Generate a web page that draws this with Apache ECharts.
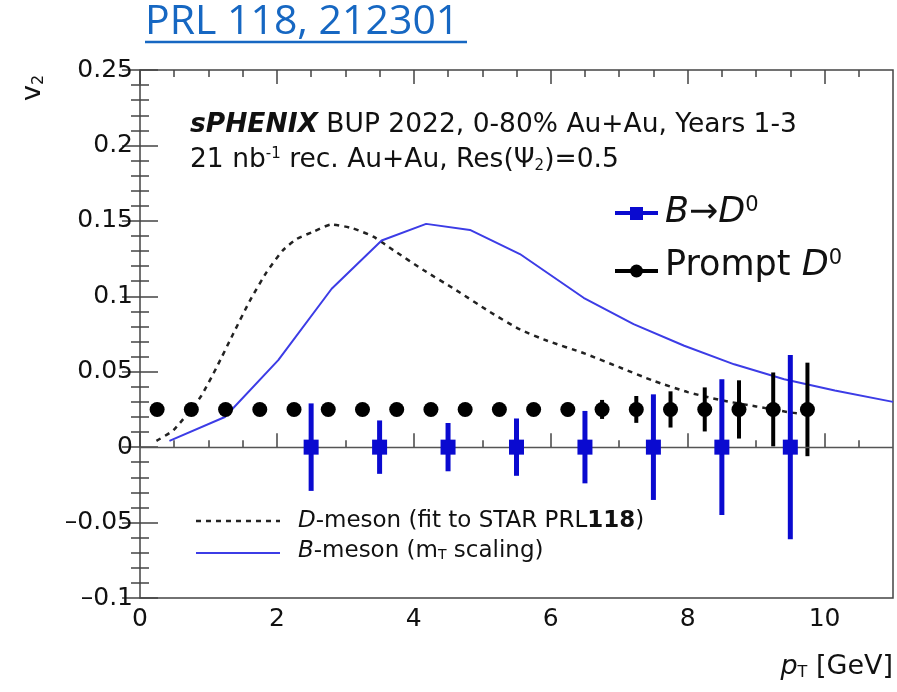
<!DOCTYPE html>
<html><head><meta charset="utf-8">
<script src="https://cdn.jsdelivr.net/npm/echarts@6/dist/echarts.min.js"></script>
<style>html,body{margin:0;padding:0;background:#fff}#c{width:897px;height:692px}</style>
</head><body><div id="c"></div>
<script>
// ---------------- data ----------------
const promptD0_pt  = [0.25,0.75,1.25,1.75,2.25,2.75,3.25,3.75,4.25,4.75,5.25,5.75,6.25,6.75,7.25,7.75,8.25,8.75,9.25,9.75];
const promptD0_v2  = [0.025,0.025,0.025,0.025,0.025,0.025,0.025,0.025,0.025,0.025,0.025,0.025,0.025,0.025,0.025,0.025,0.025,0.025,0.025,0.025];
const promptD0_err = [0.002,0.002,0.002,0.002,0.002,0.002,0.0025,0.0025,0.003,0.003,0.0035,0.004,0.0045,0.0063,0.0089,0.012,0.0146,0.0193,0.0245,0.031];

const bToD0_pt  = [2.5,3.5,4.5,5.5,6.5,7.5,8.5,9.5];
const bToD0_v2  = [0,0,0,0,0,0,0,0];
const bToD0_err = [0.029,0.0177,0.016,0.019,0.024,0.035,0.045,0.061];

const dMeson_pt = [0.24,0.49,0.88,1.12,1.36,1.61,1.85,2.09,2.29,2.53,2.80,3.11,3.41,3.70,4.14,4.62,5.11,5.55,5.95,6.5,7.0,7.5,8.0,8.5,9.0,9.5,9.7];
const dMeson_v2 = [0.0042,0.0113,0.033,0.053,0.075,0.0975,0.116,0.1306,0.138,0.1428,0.1476,0.145,0.1395,0.1306,0.1174,0.104,0.0897,0.078,0.0705,0.062,0.053,0.044,0.0365,0.031,0.027,0.023,0.022];

const bMeson_pt = [0.43,1.24,2.02,2.80,3.53,4.18,4.82,5.55,6.48,7.21,7.95,8.68,9.41,10.15,11.0];
const bMeson_v2 = [0.0042,0.020,0.0577,0.105,0.137,0.148,0.144,0.128,0.099,0.0815,0.0672,0.0549,0.045,0.0376,0.030];

const xMajorTicks = [0,2,4,6,8,10];
const xMinorTicks = [0.5,1,1.5,2.5,3,3.5,4.5,5,5.5,6.5,7,7.5,8.5,9,9.5,10.5];
const yMin = -0.1, yMax = 0.25, yStep = 0.05;
const xMin = 0, xMax = 11;

// ---------------- chart ----------------
const FONT = 'DejaVu Sans';
const FRAME = '#444';
const BLUE_MARK = '#0a0ad0';
const BLUE_LINE = '#3c3ce6';

const chart = echarts.init(document.getElementById('c'), null, {renderer: 'canvas'});

function errRender(color, width) {
  return function (params, api) {
    const x = api.value(0), y = api.value(1), e = api.value(2);
    const p1 = api.coord([x, y - e]), p2 = api.coord([x, y + e]);
    return {type: 'line', shape: {x1: p1[0], y1: p1[1], x2: p2[0], y2: p2[1]},
            style: {stroke: color, lineWidth: width}};
  };
}

const tickStyle = {color: FRAME, width: 1.5};
const xCommon = {type: 'value', min: xMin, max: xMax, splitLine: {show: false}, axisLine: {show: false}};
const yCommon = {type: 'value', min: yMin, max: yMax, interval: yStep, splitLine: {show: false}, axisLine: {show: false},
  axisTick: {inside: true, length: 18, lineStyle: tickStyle},
  minorTick: {show: true, splitNumber: 5, length: 9, lineStyle: tickStyle}};

function yFmt(v) {
  const r = +v.toFixed(2);
  if (r === 0) return '0';
  return r < 0 ? '\u2013' + String(Math.abs(r)) : String(r);
}

const option = {
  animation: false,
  backgroundColor: '#fff',
  textStyle: {fontFamily: FONT},
  grid: {left: 140, right: 4, top: 70, bottom: 94, show: true, borderColor: FRAME, borderWidth: 1.5,
         backgroundColor: 'transparent', outerBoundsMode: 'none'},
  xAxis: [
    Object.assign({}, xCommon, {position: 'bottom',
      axisLabel: {customValues: xMajorTicks, fontFamily: FONT, fontSize: 25, color: '#111', margin: 9},
      axisTick: {customValues: xMajorTicks, inside: true, length: 14, lineStyle: tickStyle}}),
    Object.assign({}, xCommon, {position: 'bottom', axisLabel: {show: false},
      axisTick: {customValues: xMinorTicks, inside: true, length: 7, lineStyle: tickStyle}}),
    Object.assign({}, xCommon, {position: 'top', axisLabel: {show: false},
      axisTick: {customValues: xMajorTicks, inside: true, length: 14, lineStyle: tickStyle}}),
    Object.assign({}, xCommon, {position: 'top', axisLabel: {show: false},
      axisTick: {customValues: xMinorTicks, inside: true, length: 7, lineStyle: tickStyle}})
  ],
  yAxis: [
    Object.assign({}, yCommon, {position: 'left',
      axisLabel: {formatter: yFmt, fontFamily: FONT, fontSize: 25, color: '#111', margin: 7}}),
    Object.assign({}, yCommon, {position: 'right', axisLabel: {show: false}})
  ],
  series: [
    {name: 'D-meson (fit to STAR PRL118)', type: 'line', smooth: 0.2, symbol: 'none',
     data: dMeson_pt.map((x, i) => [x, dMeson_v2[i]]),
     lineStyle: {color: '#222', width: 2.5, type: [5, 5]}, z: 2},
    {name: 'B-meson (mT scaling)', type: 'line', symbol: 'none',
     data: bMeson_pt.map((x, i) => [x, bMeson_v2[i]]),
     lineStyle: {color: BLUE_LINE, width: 2}, z: 2},
    {name: 'Prompt D0 err', type: 'custom', renderItem: errRender('#000', 4),
     data: promptD0_pt.map((x, i) => [x, promptD0_v2[i], promptD0_err[i]]), encode: {x: 0, y: 1}, z: 3},
    {name: 'Prompt D0', type: 'scatter', symbol: 'circle', symbolSize: 15,
     itemStyle: {color: '#000', opacity: 1},
     data: promptD0_pt.map((x, i) => [x, promptD0_v2[i]]), z: 4,
     markLine: {silent: true, symbol: 'none', label: {show: false},
       lineStyle: {color: '#555', width: 1.3, type: 'solid'}, data: [{yAxis: 0}]}},
    {name: 'B to D0 err', type: 'custom', renderItem: errRender(BLUE_MARK, 5),
     data: bToD0_pt.map((x, i) => [x, bToD0_v2[i], bToD0_err[i]]), encode: {x: 0, y: 1}, z: 5},
    {name: 'B to D0', type: 'scatter', symbol: 'rect', symbolSize: 15,
     itemStyle: {color: BLUE_MARK, opacity: 1},
     data: bToD0_pt.map((x, i) => [x, bToD0_v2[i]]), z: 6}
  ],
  graphic: [
    // title link
    {type: 'text', x: 145, y: 22, style: {text: 'PRL 118, 212301', fontFamily: 'Open Sans', fontSize: 41,
      fill: '#1667c2', textVerticalAlign: 'middle'}},
    {type: 'line', shape: {x1: 145, y1: 42, x2: 467, y2: 42}, style: {stroke: '#1667c2', lineWidth: 2.5}},
    // axis titles
    {type: 'text', x: 33, y: 88, rotation: Math.PI / 2,
     style: {text: 'v{sub|2}', fontFamily: FONT, fontSize: 27, fill: '#111', textAlign: 'center', textVerticalAlign: 'middle',
       rich: {sub: {fontFamily: FONT, fontSize: 16, verticalAlign: 'bottom', fill: '#111'}}}},
    {type: 'text', x: 893, y: 667,
     style: {text: '{i|p}{sub|T} [GeV]', fontFamily: FONT, fontSize: 27, fill: '#111', textAlign: 'right', textVerticalAlign: 'middle',
       rich: {i: {fontFamily: FONT, fontSize: 27, fontStyle: 'italic', fill: '#111'},
              sub: {fontFamily: FONT, fontSize: 16, verticalAlign: 'bottom', fill: '#111'}}}},
    // annotation
    {type: 'text', x: 190, y: 125,
     style: {text: '{bi|sPHENIX} BUP 2022, 0-80% Au+Au, Years 1-3', fontFamily: FONT, fontSize: 26.5, fill: '#111', textVerticalAlign: 'middle',
       rich: {bi: {fontFamily: FONT, fontSize: 26.5, fontWeight: 'bold', fontStyle: 'italic', fill: '#111'}}}},
    {type: 'text', x: 190, y: 160,
     style: {text: '21 nb{sup|-1} rec. Au+Au, Res(\u03A8{sub|2})=0.5', fontFamily: FONT, fontSize: 26.5, fill: '#111', textVerticalAlign: 'middle',
       rich: {sup: {fontFamily: FONT, fontSize: 15, verticalAlign: 'top', fill: '#111'},
              sub: {fontFamily: FONT, fontSize: 15, verticalAlign: 'bottom', fill: '#111'}}}},
    // top-right legend
    {type: 'line', shape: {x1: 615, y1: 213, x2: 658, y2: 213}, style: {stroke: BLUE_MARK, lineWidth: 4}},
    {type: 'rect', shape: {x: 630, y: 207, width: 13, height: 13}, style: {fill: BLUE_MARK}},
    {type: 'text', x: 665, y: 213,
     style: {text: '{i|B}\u2192{i|D}{sup|0}', fontFamily: FONT, fontSize: 35, fill: '#111', textVerticalAlign: 'middle',
       rich: {i: {fontFamily: FONT, fontSize: 35, fontStyle: 'italic', fill: '#111'},
              sup: {fontFamily: FONT, fontSize: 21, verticalAlign: 'top', fill: '#111'}}}},
    {type: 'line', shape: {x1: 615, y1: 271, x2: 658, y2: 271}, style: {stroke: '#000', lineWidth: 4}},
    {type: 'circle', shape: {cx: 636.5, cy: 271, r: 6.5}, style: {fill: '#000'}},
    {type: 'text', x: 665, y: 266,
     style: {text: 'Prompt {i|D}{sup|0}', fontFamily: FONT, fontSize: 35, fill: '#111', textVerticalAlign: 'middle',
       rich: {i: {fontFamily: FONT, fontSize: 35, fontStyle: 'italic', fill: '#111'},
              sup: {fontFamily: FONT, fontSize: 21, verticalAlign: 'top', fill: '#111'}}}},
    // bottom legend
    {type: 'line', shape: {x1: 196, y1: 521, x2: 280, y2: 521}, style: {stroke: '#222', lineWidth: 2.5, lineDash: [5, 5]}},
    {type: 'text', x: 298, y: 521,
     style: {text: '{i|D}-meson (fit to STAR PRL{b|118})', fontFamily: FONT, fontSize: 23, fill: '#111', textVerticalAlign: 'middle',
       rich: {i: {fontFamily: FONT, fontSize: 23, fontStyle: 'italic', fill: '#111'},
              b: {fontFamily: FONT, fontSize: 23, fontWeight: 'bold', fill: '#111'}}}},
    {type: 'line', shape: {x1: 196, y1: 553, x2: 280, y2: 553}, style: {stroke: BLUE_LINE, lineWidth: 2}},
    {type: 'text', x: 298, y: 551,
     style: {text: '{i|B}-meson (m{sub|T} scaling)', fontFamily: FONT, fontSize: 23, fill: '#111', textVerticalAlign: 'middle',
       rich: {i: {fontFamily: FONT, fontSize: 23, fontStyle: 'italic', fill: '#111'},
              sub: {fontFamily: FONT, fontSize: 14, verticalAlign: 'bottom', fill: '#111'}}}}
  ]
};
chart.setOption(option);
</script>
</body></html>
